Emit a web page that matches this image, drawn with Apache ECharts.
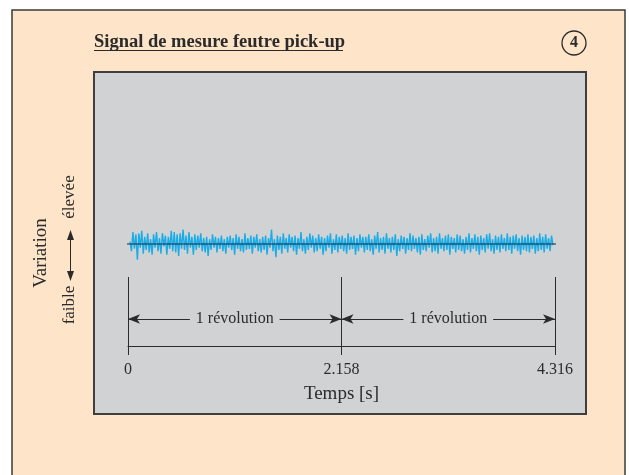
<!DOCTYPE html>
<html><head><meta charset="utf-8">
<script src="https://cdn.jsdelivr.net/npm/echarts@6/dist/echarts.min.js"></script>
<style>html,body{margin:0;padding:0;background:#fff}#c{width:629px;height:475px}</style>
</head><body><div id="c"></div>
<script>
// ---- data ----
const title = 'Signal de mesure feutre pick-up';
const figNumber = '4';
const xTickValues = [0, 2.158, 4.316];
const xAxisName = 'Temps [s]';
const revolutionLabel = '1 révolution';
const yLabel = 'Variation';
const yLow = 'faible';
const yHigh = 'élevée';
// signal amplitude samples (arbitrary units)
const signal = [
 2,-6,10,-4,8,-13,9,-3,11,-8,6,-5,9,-7,4,-9,
 8,-3,10,-6,5,-8,9,-2,7,-9,6,-4,11,-6,10,-7,
 8,-10,9,-4,12,-5,7,-8,10,-3,6,-9,8,-5,7,-3,
 9,-6,5,-7,6,-10,4,-5,8,-3,6,-7,5,-4,7,-6,
 4,-8,6,-3,7,-5,5,-9,8,-4,6,-6,4,-7,9,-5,
 5,-4,7,-8,6,-3,8,-6,4,-7,6,-5,7,-9,5,-3,
 12,-6,4,-11,7,-5,6,-8,9,-4,5,-7,8,-3,6,-6,
 7,-9,5,-4,10,-6,4,-8,6,-5,9,-3,7,-7,5,-6,
 8,-4,6,-9,5,-6,7,-3,9,-8,4,-5,8,-7,6,-4,
 7,-6,5,-8,9,-5,6,-4,7,-9,5,-6,8,-3,6,-7,
 6,-5,8,-6,4,-9,7,-4,10,-7,5,-5,6,-8,9,-4,
 5,-7,6,-5,8,-10,4,-6,7,-4,6,-8,5,-5,9,-6,
 7,-4,5,-7,6,-9,8,-5,4,-6,7,-3,9,-7,5,-6,
 6,-8,9,-4,5,-6,7,-5,8,-9,6,-4,5,-7,8,-5,
 7,-6,4,-8,6,-5,9,-7,5,-4,8,-6,6,-9,7,-5,
 5,-7,8,-4,9,-6,4,-8,7,-5,6,-7,8,-4,5,-6,
 9,-5,6,-8,7,-4,8,-6,5,-9,7,-5,6,-6,8,-7,
 6,-4,7,-8,5,-6,9,-5,6,-7,8,-4,5,-6,7,-1
];
const sampleIdx = signal.map((_, i) => i);

// ---- chart ----
const SERIF = '"Liberation Serif","Times New Roman",serif';
const INK = '#2b2b2b';
const PEACH = '#fee5c9';
const GRAY = '#d1d2d4';
const BLUE = '#18adea';

const chart = echarts.init(document.getElementById('c'), null, {renderer: 'canvas'});
const xMax = xTickValues[xTickValues.length - 1];
const baseY = 102, vTop = 69, arrowY = 27;

chart.setOption({
  animation: false,
  backgroundColor: '#fff',
  graphic: [
    {type: 'rect', z: -10, shape: {x: 12, y: 10, width: 613, height: 475},
     style: {fill: PEACH, stroke: '#3a3a3a', lineWidth: 1.5}},
    {type: 'rect', z: -9, shape: {x: 94, y: 72, width: 492, height: 342},
     style: {fill: GRAY, stroke: '#3f3f3f', lineWidth: 2}},
    {type: 'text', x: 94, y: 42, style: {text: title, font: 'bold 18.5px ' + SERIF, fill: INK, verticalAlign: 'middle'}},
    {type: 'line', shape: {x1: 94, y1: 50.5, x2: 343, y2: 50.5}, style: {stroke: INK, lineWidth: 1.2}},
    {type: 'circle', shape: {cx: 574, cy: 43, r: 12}, style: {fill: 'none', stroke: INK, lineWidth: 1.3}},
    {type: 'text', x: 574, y: 43, style: {text: figNumber, font: 'bold 16px ' + SERIF, fill: INK, align: 'center', verticalAlign: 'middle'}},
    {type: 'text', x: 41, y: 253, rotation: Math.PI / 2,
     style: {text: yLabel, font: '19px ' + SERIF, fill: INK, align: 'center', verticalAlign: 'middle'}},
    {type: 'text', x: 70, y: 305, rotation: Math.PI / 2,
     style: {text: yLow, font: '17px ' + SERIF, fill: INK, align: 'center', verticalAlign: 'middle'}},
    {type: 'text', x: 70, y: 197, rotation: Math.PI / 2,
     style: {text: yHigh, font: '17px ' + SERIF, fill: INK, align: 'center', verticalAlign: 'middle'}},
    {type: 'line', shape: {x1: 70.5, y1: 236, x2: 70.5, y2: 275}, style: {stroke: INK, lineWidth: 1}},
    {type: 'polygon', shape: {points: [[70.5, 230], [67, 240], [74, 240]]}, style: {fill: INK}},
    {type: 'polygon', shape: {points: [[70.5, 281], [67, 271], [74, 271]]}, style: {fill: INK}}
  ],
  grid: [
    {left: 130, right: 76, top: 214, bottom: 201},
    {left: 128, right: 74, top: 200, bottom: 129}
  ],
  xAxis: [
    {gridIndex: 0, type: 'category', data: sampleIdx, boundaryGap: false, show: false},
    {gridIndex: 1, type: 'value', min: 0, max: xMax, interval: xTickValues[1],
     axisLine: {show: true, lineStyle: {color: INK, width: 1}},
     axisTick: {show: true, length: 9, lineStyle: {color: INK, width: 1}},
     splitLine: {show: false},
     axisLabel: {color: INK, fontFamily: SERIF, fontSize: 16, margin: 16,
       formatter: v => String(v)},
     name: xAxisName, nameLocation: 'middle', nameGap: 39,
     nameTextStyle: {color: INK, fontFamily: SERIF, fontSize: 19}}
  ],
  yAxis: [
    {gridIndex: 0, type: 'value', min: -25, max: 25, show: false},
    {gridIndex: 1, type: 'value', min: 0, max: 146, show: false}
  ],
  series: [
    {type: 'line', xAxisIndex: 0, yAxisIndex: 0, data: signal, symbol: 'none',
     lineStyle: {color: BLUE, width: 1.4}, z: 2},
    {type: 'line', xAxisIndex: 1, yAxisIndex: 1, clip: false, symbol: 'none', z: 3,
     data: [[-0.111, baseY], [xMax + 0.101, baseY]],
     lineStyle: {color: '#1d2a35', width: 1},
     markLine: {
       silent: true, symbol: ['none', 'none'],
       lineStyle: {color: INK, width: 1, type: 'solid'},
       label: {show: false},
       data: xTickValues.map(v => [{coord: [v, 0]}, {coord: [v, vTop]}])
     }},
    {type: 'line', xAxisIndex: 1, yAxisIndex: 1, data: [], symbol: 'none', z: 4,
     markLine: {
       silent: true, symbol: ['arrow', 'arrow'], symbolSize: [7, 12],
       lineStyle: {color: INK, width: 1, type: 'solid'},
       label: {show: true, position: 'middle', distance: 0, verticalAlign: 'middle',
         formatter: revolutionLabel,
         color: INK, fontFamily: SERIF, fontSize: 16, backgroundColor: GRAY, padding: [1, 6]},
       data: [
         [{coord: [xTickValues[0], arrowY]}, {coord: [xTickValues[1], arrowY]}],
         [{coord: [xTickValues[1], arrowY]}, {coord: [xTickValues[2], arrowY]}]
       ]
     }}
  ]
});
</script></body></html>
